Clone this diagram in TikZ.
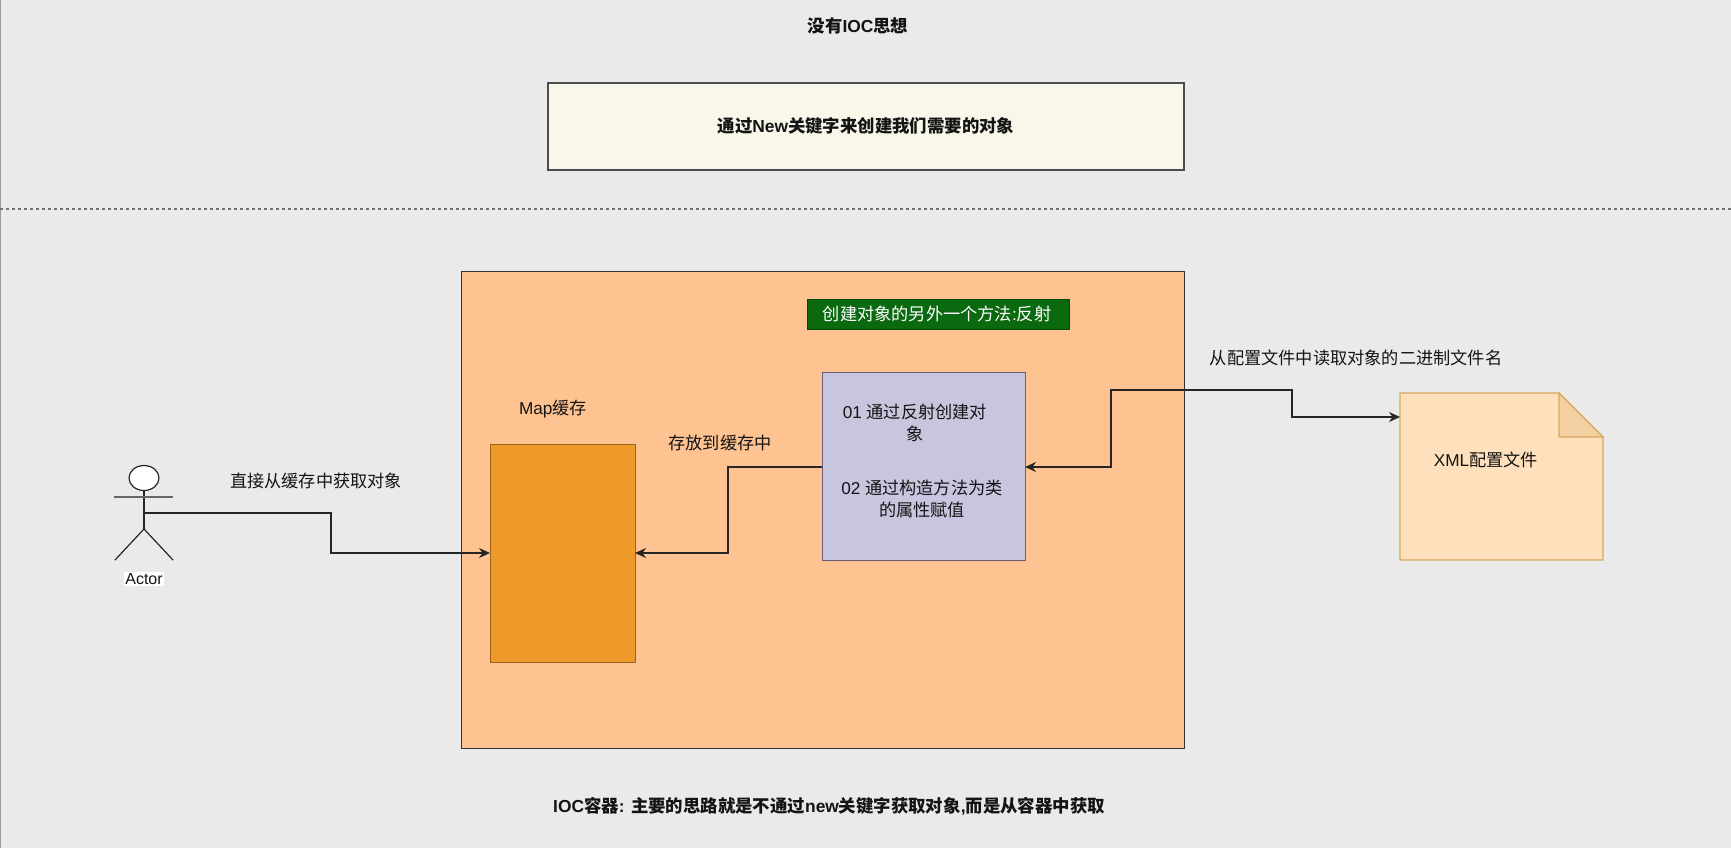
\documentclass[tikz,border=0pt]{standalone}
\usepackage{fontspec}
\setmainfont{Liberation Sans}
\newfontfamily\cjk{Noto Sans CJK SC}
\usetikzlibrary{arrows.meta,calc,shapes.geometric}
\definecolor{bgc}{HTML}{EAEAEA}
\definecolor{orangec}{HTML}{FFC391}
\definecolor{mapc}{HTML}{EE9A2B}
\definecolor{purplec}{HTML}{C8C5DE}
\definecolor{purpleline}{HTML}{6B5A7E}
\definecolor{notec}{HTML}{F8F7EA}
\definecolor{greenc}{HTML}{0B6A10}
\definecolor{xmlc}{HTML}{FFE0BC}
\definecolor{xmlfold}{HTML}{F3CFA2}
\definecolor{xmlline}{HTML}{D8A860}
\definecolor{inkc}{HTML}{141414}
\tikzset{
  x=1pt,y=-1pt,
  box/.style={rectangle,anchor=north west,inner sep=0pt,outer sep=0pt,line width=1pt},
  label text/.style={inner sep=0pt,text=inkc,font=\fontsize{17.2}{22}\selectfont,align=center},
  strong text/.style={label text,font=\fontsize{17.4}{22}\selectfont\bfseries},
  flow/.style={draw=black!85,line width=1.3pt,-{Stealth[length=11pt,width=10pt]}},
  figure line/.style={draw=black!85,line width=1.2pt,line cap=round},
}
\begin{document}
\begin{tikzpicture}
\useasboundingbox (0,0) rectangle (1731,848);
\fill[bgc] (0,0) rectangle (1731,848);
\draw[black!40,line width=1pt] (0.5,0) -- (0.5,848);

% top part
\node[strong text] (title) at (858,26) {{\cjk\bfseries 没有}IOC{\cjk\bfseries 思想}};
\node[box,draw=black!70,fill=notec,line width=1.4pt,minimum width=636pt,minimum height=87pt] (newbox) at (548,83) {};
\node[strong text] (newtext) at (866,126) {{\cjk\bfseries 通过}New{\cjk\bfseries 关键字来创建我们需要的对象}};
\coordinate (dl) at (0,209);
\coordinate (dr) at (1731,209);
\draw[black!55,line width=2.5pt,dash pattern=on 3pt off 3pt] (dl) -- (dr);

% container
\node[box,draw=black!80,fill=orangec,minimum width=723pt,minimum height=477pt] (container) at (461,271) {};
\node[box,draw=green!30!black,fill=greenc,minimum width=262pt,minimum height=30pt] (reflect) at (807,299) {};
\node[label text,text=white] (reflecttext) at (937,314) {{\cjk 创建对象的另外一个方法}:{\cjk 反射}};

% map cache
\node[box,draw=black!35!mapc,fill=mapc,minimum width=145pt,minimum height=218pt] (map) at (490,444) {};
\node[label text] (maptext) at (553,409) {Map{\cjk 缓存}};

% purple box
\node[box,draw=purpleline,fill=purplec,minimum width=203pt,minimum height=188pt] (proc) at (822,372) {};
\node[label text] (step1) at (915,423) {01 {\cjk 通过反射创建对}\\[-0.5pt]{\cjk 象}};
\node[label text] (step2) at (922,499) {02 {\cjk 通过构造方法为类}\\[-0.5pt]{\cjk 的属性赋值}};

% xml document
\node[box,minimum width=203pt,minimum height=167pt] (xml) at (1400,393) {};
\coordinate (foldtop) at (1559,393);
\coordinate (foldright) at (1603,437);
\coordinate (foldin) at (1559,437);
\draw[xmlline,fill=xmlc,line width=1.2pt] (xml.north west) -- (foldtop) -- (foldright) -- (xml.south east) -- (xml.south west) -- cycle;
\draw[xmlline,fill=xmlfold,line width=1.2pt] (foldtop) -- (foldright) -- (foldin) -- cycle;
\node[label text] (xmltext) at (1486,460) {XML{\cjk 配置文件}};

% actor
\node[ellipse,draw=black!85,fill=white,line width=1.2pt,minimum width=30pt,minimum height=25pt,inner sep=0pt,outer sep=0pt] (head) at (144,478) {};
\coordinate (armL) at (114,497);
\coordinate (armR) at (173,497);
\coordinate (hip) at (144,529);
\coordinate (legL) at (115,560);
\coordinate (legR) at (173,560);
\coordinate (hand) at (144,513);
\draw[figure line] (head.south) -- (hip);
\draw[black!60,line width=1.8pt] (armL) -- (armR);
\draw[figure line] (legL) -- (hip) -- (legR);
\node[fill=white,inner sep=1pt,text=inkc,font=\fontsize{16}{18}\selectfont] (actor) at (144,579) {Actor};

% connectors
\coordinate (m1a) at (331,513);
\coordinate (m1b) at (331,553);
\draw[flow] (hand) -- (m1a) -- (m1b) -- (map.west);
\node[label text] (getlabel) at (316,481) {{\cjk 直接从缓存中获取对象}};

\coordinate (m2a) at (728,467);
\coordinate (m2b) at (728,553);
\coordinate (procL) at (proc.west |- m2a);
\draw[flow] (procL) -- (m2a) -- (m2b) -- (map.east);
\node[label text] (storelabel) at (720,443) {{\cjk 存放到缓存中}};

\coordinate (procR) at (proc.east |- m2a);
\coordinate (m3a) at (1111,467);
\coordinate (m3b) at (1111,390);
\coordinate (m3c) at (1292,390);
\coordinate (m3d) at (1292,417);
\coordinate (xmlL) at (xml.west |- m3d);
\draw[draw=black!85,line width=1.3pt,{Stealth[length=11pt,width=10pt]}-{Stealth[length=11pt,width=10pt]}] (procR) -- (m3a) -- (m3b) -- (m3c) -- (m3d) -- (xmlL);
\node[label text] (readlabel) at (1356,358) {{\cjk 从配置文件中读取对象的二进制文件名}};

% footer
\node[strong text] (footer) at (829,806) {IOC{\cjk\bfseries 容器}: {\cjk\bfseries 主要的思路就是不通过}new{\cjk\bfseries 关键字获取对象}{,}{\cjk\bfseries 而是从容器中获取}};
\end{tikzpicture}
\end{document}
